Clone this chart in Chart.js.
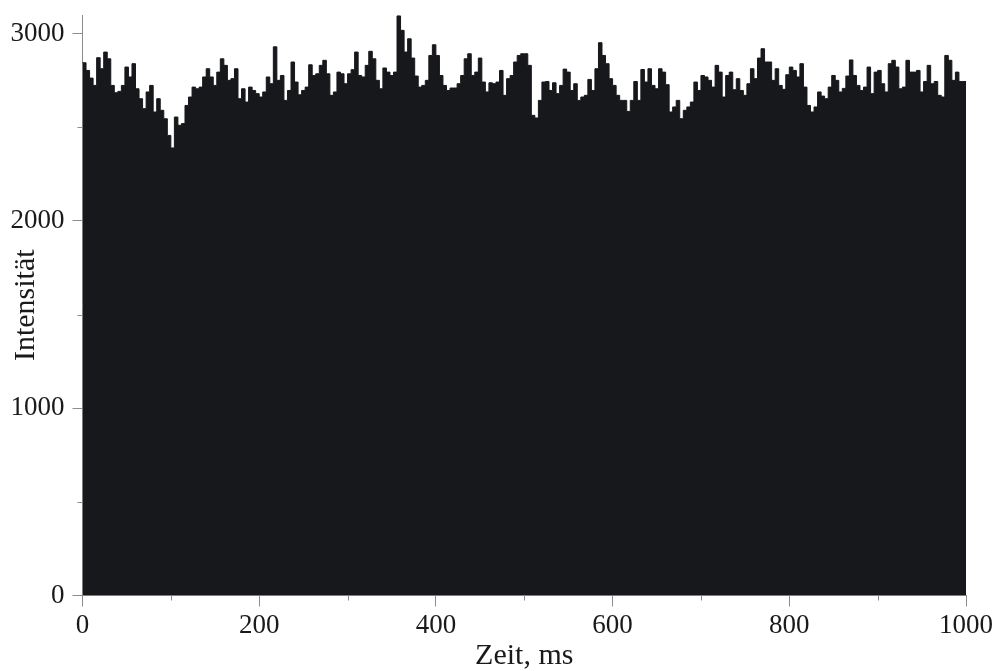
<!DOCTYPE html>
<html>
<head>
<meta charset="utf-8">
<script src="https://cdn.jsdelivr.net/npm/chart.js@4/dist/chart.umd.min.js"></script>
<style>
  body { margin: 0; background: #fff; }
  #wrap { width: 996px; height: 671px; }
</style>
</head>
<body>
<div id="wrap"><canvas id="myChartIntens" width="996" height="671"></canvas></div>
<script>
// Histogramm: Intensität pro 4-ms-Bin, 0 .. 1000 ms
var binWidth = 4;
var intensity = [
  2849, 2845, 2804, 2763, 2724, 2872, 2813, 2902, 2866, 2724,
  2685, 2692, 2724, 2822, 2769, 2840, 2706, 2653, 2600, 2689,
  2724, 2582, 2653, 2591, 2546, 2457, 2390, 2555, 2511, 2520,
  2617, 2662, 2715, 2706, 2715, 2769, 2813, 2769, 2724, 2795,
  2866, 2831, 2751, 2760, 2813, 2653, 2706, 2635, 2715, 2697,
  2680, 2662, 2689, 2769, 2733, 2930, 2751, 2777, 2644, 2697,
  2849, 2742, 2674, 2697, 2715, 2834, 2777, 2786, 2831, 2858,
  2786, 2671, 2689, 2795, 2786, 2733, 2786, 2808, 2902, 2777,
  2769, 2831, 2906, 2866, 2751, 2706, 2817, 2795, 2777, 2795,
  3095, 3018, 2902, 2973, 2870, 2774, 2715, 2724, 2751, 2884,
  2941, 2884, 2777, 2724, 2697, 2710, 2710, 2733, 2777, 2866,
  2893, 2777, 2795, 2870, 2742, 2689, 2738, 2733, 2742, 2804,
  2671, 2760, 2777, 2849, 2884, 2893, 2893, 2831, 2564, 2550,
  2644, 2742, 2745, 2697, 2738, 2680, 2724, 2811, 2795, 2697,
  2733, 2644, 2662, 2671, 2756, 2697, 2813, 2952, 2884, 2840,
  2760, 2724, 2671, 2644, 2644, 2585, 2644, 2745, 2644, 2809,
  2742, 2813, 2724, 2706, 2813, 2795, 2728, 2582, 2609, 2644,
  2546, 2591, 2609, 2635, 2742, 2697, 2777, 2769, 2751, 2715,
  2831, 2795, 2662, 2777, 2795, 2701, 2760, 2697, 2671, 2733,
  2813, 2760, 2870, 2920, 2849, 2849, 2751, 2813, 2724, 2703,
  2781, 2822, 2804, 2769, 2840, 2715, 2617, 2582, 2609, 2689,
  2667, 2653, 2715, 2777, 2751, 2689, 2708, 2774, 2860, 2777,
  2724, 2697, 2715, 2822, 2680, 2795, 2804, 2733, 2689, 2840,
  2858, 2822, 2706, 2715, 2858, 2795, 2795, 2804, 2689, 2745,
  2831, 2733, 2745, 2671, 2662, 2884, 2858, 2751, 2795, 2745
];
var xMajor = [0, 200, 400, 600, 800, 1000];
var xMinor = [100, 300, 500, 700, 900];
var yMajor = [0, 1000, 2000, 3000];
var yMinor = [500, 1500, 2500];

var barColor = '#17181b';
var axisGrey = '#8c8c8c';
var textColor = '#1a1a1a';
var serif = "'Liberation Serif', 'Times New Roman', serif";

// Stufen: jeder Bin beginnt bei i*binWidth, letzter Punkt schließt bei 1000 ab
var points = intensity.map(function (v, i) { return { x: i * binWidth, y: v }; });
points.push({ x: intensity.length * binWidth, y: intensity[intensity.length - 1] });

// kurze Nebenstriche an den Achsen
var minorTicks = {
  id: 'minorTicks',
  afterDraw: function (chart) {
    var ctx = chart.ctx;
    var sx = chart.scales.x, sy = chart.scales.y;
    ctx.save();
    ctx.strokeStyle = axisGrey;
    ctx.lineWidth = 1;
    ctx.beginPath();
    xMinor.forEach(function (v) {
      var px = Math.round(sx.getPixelForValue(v)) + 0.5;
      ctx.moveTo(px, sy.bottom);
      ctx.lineTo(px, sy.bottom + 5);
    });
    yMinor.forEach(function (v) {
      var py = Math.round(sy.getPixelForValue(v)) + 0.5;
      ctx.moveTo(sx.left - 5, py);
      ctx.lineTo(sx.left, py);
    });
    ctx.stroke();
    ctx.restore();
  }
};

var plain = function (v) { return String(v); };

var grafica = document.getElementById('myChartIntens').getContext('2d');
var chart = new Chart(grafica, {
  type: 'line',
  data: {
    datasets: [{
      label: 'Intensität',
      data: points,
      stepped: 'after',
      fill: 'origin',
      backgroundColor: barColor,
      borderColor: barColor,
      borderWidth: 1,
      pointRadius: 0
    }]
  },
  options: {
    responsive: false,
    animation: false,
    layout: { padding: { top: 15, right: 30, left: 0, bottom: 0 } },
    plugins: { legend: { display: false }, tooltip: { enabled: false } },
    scales: {
      x: {
        type: 'linear',
        min: 0,
        max: 1000,
        offset: false,
        afterBuildTicks: function (s) { s.ticks = xMajor.map(function (v) { return { value: v }; }); },
        afterFit: function (s) {
          s.height = 75.5;
          s.paddingLeft = 0;
          s.paddingRight = 0;
        },
        ticks: {
          maxRotation: 0,
          autoSkip: false,
          padding: 3,
          color: textColor,
          font: { family: serif, size: 27 },
          callback: plain
        },
        grid: { drawOnChartArea: false, tickLength: 11, color: axisGrey },
        border: { color: axisGrey },
        title: {
          display: true,
          text: 'Zeit, ms',
          color: textColor,
          padding: 0,
          font: { family: serif, size: 30, lineHeight: 1 }
        }
      },
      y: {
        min: 0,
        max: 3100,
        afterBuildTicks: function (s) { s.ticks = yMajor.map(function (v) { return { value: v }; }); },
        afterFit: function (s) {
          s.width = 82.5;
          s.paddingTop = 0;
          s.paddingBottom = 0;
        },
        ticks: {
          padding: 8,
          color: textColor,
          font: { family: serif, size: 27 },
          callback: plain
        },
        grid: { drawOnChartArea: false, tickLength: 10, color: axisGrey },
        border: { color: axisGrey },
        title: {
          display: true,
          text: 'Intensität',
          color: textColor,
          padding: { top: 11, bottom: 0 },
          font: { family: serif, size: 30, lineHeight: 1 }
        }
      }
    }
  },
  plugins: [minorTicks]
});
</script>
</body>
</html>
